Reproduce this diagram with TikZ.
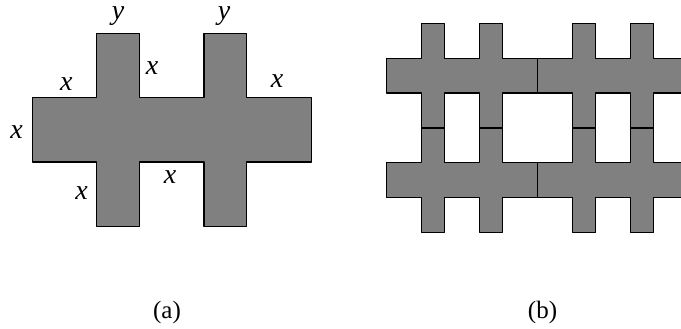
\documentclass[tikz,border=0pt]{standalone}
\usepackage{fontspec}
\setmainfont{Liberation Serif}
\begin{document}
\begin{tikzpicture}[x=1pt,y=-1pt,
  tile/.style={fill={rgb,255:red,128;green,128;blue,128},draw=black,line width=1.2pt,line join=round},
  lab/.style={inner sep=0pt,font=\fontsize{28}{32}\selectfont\itshape},
  captxt/.style={inner sep=0pt,font=\fontsize{25}{30}\selectfont},
  hash/.pic={\path[tile] (0,3)--(3,3)--(3,0)--(5,0)--(5,3)--(8,3)--(8,0)--(10,0)--(10,3)--(13,3)--(13,6)--(10,6)--(10,9)--(8,9)--(8,6)--(5,6)--(5,9)--(3,9)--(3,6)--(0,6)--cycle;}
]
\clip (0,0) rectangle (681,329);
% (a)
\pic[shift={(32.3,33.3)},scale=21.45] {hash};
\node[lab] (ya) at (118,16) {y};
\node[lab] (yb) at (224,16) {y};
\node[lab] (xa) at (66.3,84.3) {x};
\node[lab] (xb) at (152,68.3) {x};
\node[lab] (xc) at (277,81) {x};
\node[lab] (xd) at (16.7,131.7) {x};
\node[lab] (xe) at (81.7,193.3) {x};
\node[lab] (xf) at (170,177.3) {x};
% (b)
\pic[shift={(386.7,23.3)},scale=11.615] {hash};
\pic[shift={(537.7,23.3)},scale=11.615] {hash};
\pic[shift={(386.7,128.0)},scale=11.615] {hash};
\pic[shift={(537.7,128.0)},scale=11.615] {hash};
\node[captxt] (ca) at (167,312) {(a)};
\node[captxt] (cb) at (542.5,312) {(b)};
\end{tikzpicture}
\end{document}
